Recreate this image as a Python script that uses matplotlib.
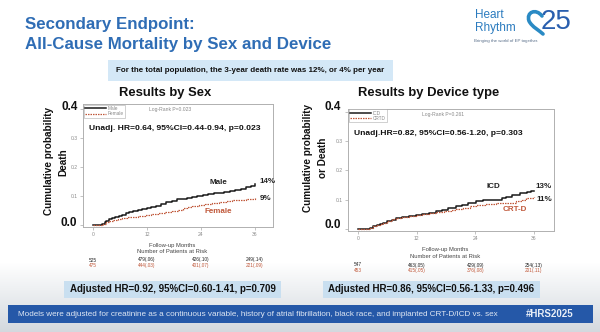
import numpy as np
import matplotlib
matplotlib.use("Agg")
import matplotlib.pyplot as plt
import matplotlib.transforms as mtransforms
from matplotlib.patches import Rectangle, PathPatch
from matplotlib.path import Path
from matplotlib.colors import LinearSegmentedColormap

plt.rcParams["font.family"] = ["Liberation Sans", "DejaVu Sans"]

# ---- data -------------------------------------------------------------
month_ticks = [0, 12, 24, 36]

male_t = [0, 2.0, 2.6, 3.0, 3.5, 4.2, 5.0, 5.8, 6.5, 7.3, 8.0, 9.0, 10.0, 11.0,
          12.0, 13.0, 14.0, 15.2, 16.3, 17.5, 18.6, 19.7, 20.8, 22.0, 23.2,
          24.4, 25.6, 26.8, 28.0, 29.2, 30.4, 31.6, 32.8, 34.0, 35.2, 36.0]
male_y = [0, 0.004, 0.010, 0.015, 0.019, 0.023, 0.027, 0.030, 0.033, 0.040,
          0.044, 0.048, 0.052, 0.055, 0.058, 0.062, 0.067, 0.073, 0.079, 0.084,
          0.088, 0.091, 0.094, 0.098, 0.100, 0.102, 0.106, 0.109, 0.111, 0.113,
          0.116, 0.120, 0.125, 0.130, 0.135, 0.140]

female_t = [0, 2.2, 3.0, 3.6, 4.5, 5.5, 6.5, 7.5, 8.5, 10.0, 11.5, 13.0, 14.5,
            16.0, 17.5, 19.0, 20.0, 21.0, 22.0, 23.5, 25.0, 26.5, 28.0, 29.5,
            31.0, 32.5, 34.0, 35.0, 36.0]
female_y = [0, 0.004, 0.010, 0.014, 0.018, 0.021, 0.024, 0.027, 0.029, 0.032,
            0.034, 0.037, 0.040, 0.044, 0.048, 0.053, 0.058, 0.062, 0.065,
            0.068, 0.072, 0.076, 0.079, 0.082, 0.085, 0.087, 0.089, 0.091, 0.092]

icd_t = [0, 2.4, 3.0, 3.8, 4.5, 5.2, 6.0, 7.0, 7.8, 9.0, 10.5, 11.9, 13.0, 14.5,
         16.0, 17.2, 18.5, 20.1, 21.3, 22.5, 24.2, 25.5, 27.0, 28.3, 29.4,
         30.3, 31.5, 33.1, 34.5, 35.4, 36.0]
icd_y = [0, 0.004, 0.009, 0.013, 0.017, 0.020, 0.026, 0.032, 0.037, 0.041,
         0.045, 0.048, 0.052, 0.056, 0.060, 0.065, 0.071, 0.077, 0.083, 0.088,
         0.094, 0.097, 0.099, 0.100, 0.104, 0.110, 0.115, 0.123, 0.126,
         0.128, 0.130]

crtd_t = [0, 2.4, 3.0, 3.8, 4.5, 5.2, 6.0, 7.0, 7.8, 9.0, 10.5, 11.9, 13.0,
          14.5, 16.0, 17.5, 19.0, 20.1, 21.5, 23.0, 24.2, 26.0, 28.3, 30.0,
          32.4, 33.5, 34.4, 35.3, 36.0]
crtd_y = [0, 0.004, 0.009, 0.013, 0.017, 0.021, 0.027, 0.033, 0.037, 0.041,
          0.044, 0.047, 0.050, 0.054, 0.058, 0.062, 0.065, 0.068, 0.073, 0.077,
          0.080, 0.084, 0.087, 0.090, 0.094, 0.098, 0.105, 0.107, 0.108]

sex_risk = [["525", "479(.06)", "426(.10)", "249(.14)"],
            ["475", "444(.03)", "401(.07)", "221(.09)"]]
dev_risk = [["547", "463(.05)", "429(.09)", "254(.13)"],
            ["453", "415(.05)", "376(.08)", "201(.11)"]]

# ---- styling ----------------------------------------------------------
W, H = 600, 332
BLUE = "#2f6db5"
RED = "#c0583a"
GRAY = "#8a8a8a"
INK = "#111111"

fig = plt.figure(figsize=(W / 100, H / 100), dpi=100)

# pixel-space canvas for the slide decoration
bg = fig.add_axes([0, 0, 1, 1], zorder=0)
bg.set_xlim(0, W)
bg.set_ylim(H, 0)
bg.axis("off")

cmap = LinearSegmentedColormap.from_list("slide", ["#ffffff", "#d3d8de"])
shade = np.clip((np.arange(H) - 262) / 70.0, 0, 1)[:, None]
bg.imshow(shade, cmap=cmap, aspect="auto", extent=(0, W, H, 0), vmin=0, vmax=1)

# heading
bg.text(25, 25, "Secondary Endpoint:", color=BLUE, fontsize=12.2,
        fontweight="bold", va="center", ha="left")
bg.text(25, 44, "All-Cause Mortality by Sex and Device", color=BLUE,
        fontsize=12.2, fontweight="bold", va="center", ha="left")

# logo
bg.text(475, 15, "Heart", color="#2b7bbf", fontsize=8.5, va="center", ha="left")
bg.text(475, 28, "Rhythm", color="#2b7bbf", fontsize=8.5, va="center", ha="left")
bg.text(541, 22, "25", color="#2a5fae", fontsize=20, va="center", ha="left")
heart = Path([(542, 16), (536, 8), (526, 12), (529, 21), (532, 27), (540, 31), (543, 34)],
             [Path.MOVETO, Path.CURVE4, Path.CURVE4, Path.CURVE4,
              Path.CURVE4, Path.CURVE4, Path.CURVE4])
bg.add_patch(PathPatch(heart, fill=False, lw=2.6, ec="#2a8ac4", capstyle="round"))
bg.text(474, 41, "Bringing the world of EP together.", color="#5a6f8a",
        fontsize=3.2, va="center", ha="left")

# summary banner
bg.add_patch(Rectangle((108, 60), 285, 21, fc="#d4e8f7", ec="none"))
bg.text(250.5, 70.5, "For the total population, the 3-year death rate was 12%, or 4% per year",
        fontsize=5.8, fontweight="bold", va="center", ha="center", color=INK)

# panel titles
bg.text(165, 93, "Results by Sex", fontsize=9.4, fontweight="bold",
        va="center", ha="center", color=INK)
bg.text(429, 93, "Results by Device type", fontsize=9.4, fontweight="bold",
        va="center", ha="center", color=INK)

# y-axis titles
bg.text(49, 161, "Cumulative probability", rotation=90, fontsize=7.2,
        fontweight="bold", va="center", ha="center", color=INK)
bg.text(63, 162, "Death", rotation=90, fontsize=7.2,
        fontweight="bold", va="center", ha="center", color=INK)
bg.text(308, 158, "Cumulative probability", rotation=90, fontsize=7.2,
        fontweight="bold", va="center", ha="center", color=INK)
bg.text(323, 158, "or Death", rotation=90, fontsize=7.2,
        fontweight="bold", va="center", ha="center", color=INK)

# big end labels of the y axes
for x, y, s in [(70, 107, "0.4"), (69, 223, "0.0"), (333, 107, "0.4"), (333, 225, "0.0")]:
    bg.text(x, y, s, fontsize=8.5, fontweight="bold", va="center", ha="center",
            color=INK)

# adjusted-result boxes
bg.add_patch(Rectangle((64, 281), 217, 17, fc="#c9dff0", ec="none"))
bg.text(172.5, 289.5, "Adjusted HR=0.92, 95%CI=0.60-1.41, p=0.709", fontsize=7,
        fontweight="bold", va="center", ha="center", color=INK)
bg.add_patch(Rectangle((323, 281), 217, 17, fc="#c9dff0", ec="none"))
bg.text(431.5, 289.5, "Adjusted HR=0.86, 95%CI=0.56-1.33, p=0.496", fontsize=7,
        fontweight="bold", va="center", ha="center", color=INK)

# footer bar
bg.add_patch(Rectangle((8, 305), 585, 18, fc="#2558a8", ec="none"))
bg.text(18, 314, "Models were adjusted for creatinine as a continuous variable, "
        "history of atrial fibrillation, black race, and implanted CRT-D/ICD vs. sex",
        fontsize=5.85, va="center", ha="left", color="#dfe7f3")
bg.text(550, 314, "#HRS2025", fontsize=7, fontweight="bold", va="center",
        ha="center", color="#e8eef7")


def km_panel(box, xlim, ylim, series, labels, logrank, unadj, risk,
             risk_y, caption_y, ends):
    """One Kaplan-Meier style panel; box is (left, top, right, bottom) in px."""
    l, t, r, b = box
    ax = fig.add_axes([l / W, 1 - b / H, (r - l) / W, (b - t) / H], zorder=2)
    ax.set_facecolor("white")
    (t1, y1), (t2, y2) = series
    ax.plot(t1, y1, drawstyle="steps-post", color="#1a1a1a", lw=1.1, label=labels[0])
    ax.plot(t2, y2, drawstyle="steps-post", color=RED, lw=0.9, ls=(0, (1.2, 0.8)),
            label=labels[1])
    ax.set_xlim(*xlim)
    ax.set_ylim(*ylim)
    ax.set_xticks(month_ticks)
    ax.set_xticklabels([str(m) for m in month_ticks])
    ax.set_yticks([0, 0.1, 0.2, 0.3, 0.4])
    ax.set_yticklabels(["", "0.1", "0.2", "0.3", ""])
    ax.tick_params(length=2, width=0.5, color="#aaaaaa", labelsize=3.6,
                   labelcolor=GRAY, pad=1.5)
    for sp in ax.spines.values():
        sp.set_color("#b0b0b0")
        sp.set_linewidth(0.7)
    leg = ax.legend(loc="upper left", fontsize=3.4, frameon=True, handlelength=4.5,
                    borderpad=0.25, labelspacing=0.1, handletextpad=0.4,
                    borderaxespad=0.15, fancybox=False)
    leg.get_frame().set_linewidth(0.4)
    leg.get_frame().set_edgecolor("#999999")
    for txt in leg.get_texts():
        txt.set_color(GRAY)
    ax.text(0.46, 0.975, logrank, transform=ax.transAxes, fontsize=3.6,
            color=GRAY, ha="center", va="top")
    ax.text(0.03, 0.80, unadj, transform=ax.transAxes, fontsize=6.1,
            fontweight="bold", color=INK, ha="left", va="center")
    for (xd, yd, s, col, ha) in ends:
        ax.text(xd, yd, s, fontsize=5.8, fontweight="bold", color=col,
                ha=ha, va="center")

    # axis caption and number-at-risk table below the panel
    cx = (l + r) / 2 - 6
    bg.text(cx, caption_y, "Follow-up Months", fontsize=4.2, color="#444444",
            ha="center", va="center")
    bg.text(cx, caption_y + 6.5, "Number of Patients at Risk", fontsize=4.2,
            color="#444444", ha="center", va="center")
    col_tf = mtransforms.blended_transform_factory(ax.transData, bg.transData)
    for row, col, ry in zip(risk, ["#222222", RED], risk_y):
        for m, s in zip(month_ticks, row):
            bg.text(m, ry, s, fontsize=3.4, color=col, ha="center", va="center",
                    transform=col_tf)
    return ax


km_panel((83, 104, 273, 227), (-2.2, 40), (-0.007, 0.417),
         [(male_t, male_y), (female_t, female_y)], ["Male", "Female"],
         "Log-Rank P=0.023", "Unadj. HR=0.64, 95%CI=0.44-0.94, p=0.023",
         sex_risk, [260, 265.5], 245,
         [(27.9, 0.148, "Male", "#222222", "center"),
          (37.1, 0.150, "14%", "#222222", "left"),
          (37.0, 0.092, "9%", "#222222", "left"),
          (27.9, 0.048, "Female", RED, "center")])

km_panel((348, 108.7, 554, 230.7), (-2.04, 40.1), (-0.006, 0.41),
         [(icd_t, icd_y), (crtd_t, crtd_y)], ["ICD", "CRTD"],
         "Log-Rank P=0.261", "Unadj.HR=0.82, 95%CI=0.56-1.20, p=0.303",
         dev_risk, [265, 270.5], 250,
         [(27.8, 0.144, "ICD", "#222222", "center"),
          (36.3, 0.144, "13%", "#222222", "left"),
          (36.5, 0.099, "11%", "#222222", "left"),
          (32.0, 0.065, "CRT-D", RED, "center")])

fig.savefig("out.png", dpi=100)
